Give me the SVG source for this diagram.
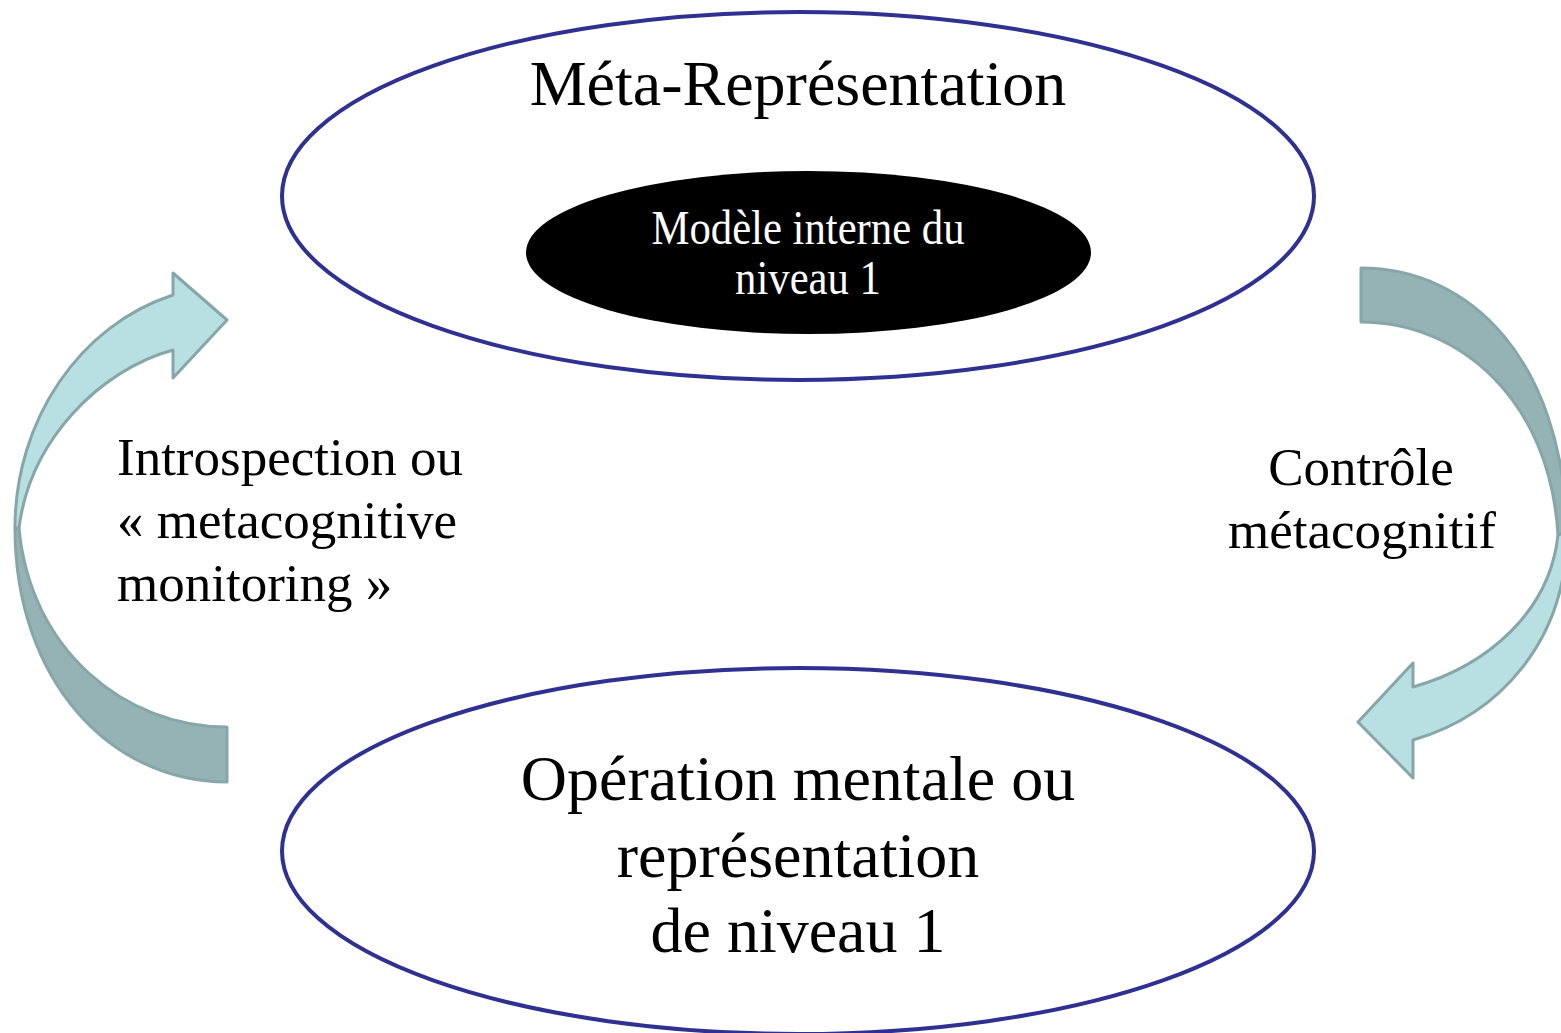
<svg xmlns="http://www.w3.org/2000/svg" width="1561" height="1033" viewBox="0 0 1561 1033">
<style>
.oval{fill:#fff;stroke:#2E3192;stroke-width:4}
.light{fill:#B8DFE2;stroke:#87A6A8;stroke-width:3;stroke-linejoin:round}
.dark{fill:#95B3B5;stroke:#87A6A8;stroke-width:3;stroke-linejoin:round}
.t{font-family:"Liberation Serif","Times New Roman",serif;fill:#000}
</style>
<rect width="1561" height="1033" fill="#fff"/>
<g id="connectors">
  <g id="arrow-left">
    <path class="dark" d="M227,782 C110,782 15,680 15,528 L19,528 C30,650 125,727 227,727 Z"/>
    <path class="light" d="M15,528 C15,420 80,325 173,295 L173,273 L227,320 L173,378 L173,350 C100,370 30,440 19,528 Z"/>
  </g>
  <g id="arrow-right">
    <path class="dark" d="M1361,268 C1470,268 1563,360 1567,532 L1558,535 C1550,400 1460,322 1361,322 Z"/>
    <path class="light" d="M1567,532 C1567,640 1500,715 1413,740 L1413,778 L1358,722 L1413,663 L1413,687 C1490,665 1550,610 1558,535 Z"/>
  </g>
</g>
<g id="node-meta">
  <ellipse class="oval" cx="798" cy="196" rx="516" ry="184"/>
  <text class="t" x="798" y="105" font-size="64" text-anchor="middle">Méta-Représentation</text>
</g>
<g id="node-modele">
  <ellipse cx="808.5" cy="252.5" rx="282.5" ry="81.5" fill="#000"/>
  <g transform="translate(808,0) scale(0.89,1)">
    <text class="t" x="0" y="244" font-size="48" text-anchor="middle" style="fill:#fff">Modèle interne du</text>
    <text class="t" x="0" y="294" font-size="48" text-anchor="middle" style="fill:#fff">niveau 1</text>
  </g>
</g>
<g id="node-operation">
  <ellipse class="oval" cx="798" cy="851" rx="516" ry="183"/>
  <text class="t" font-size="64" text-anchor="middle"><tspan x="798" y="800">Opération mentale ou</tspan><tspan x="798" y="877">représentation</tspan><tspan x="798" y="952">de niveau 1</tspan></text>
</g>
<g id="label-introspection">
  <text class="t" font-size="53"><tspan x="117" y="475">Introspection ou</tspan><tspan x="117" y="538">« metacognitive</tspan><tspan x="117" y="601">monitoring »</tspan></text>
</g>
<g id="label-controle">
  <text class="t" font-size="53" text-anchor="middle"><tspan x="1361" y="485">Contrôle</tspan><tspan x="1362" y="548">métacognitif</tspan></text>
</g>
</svg>
